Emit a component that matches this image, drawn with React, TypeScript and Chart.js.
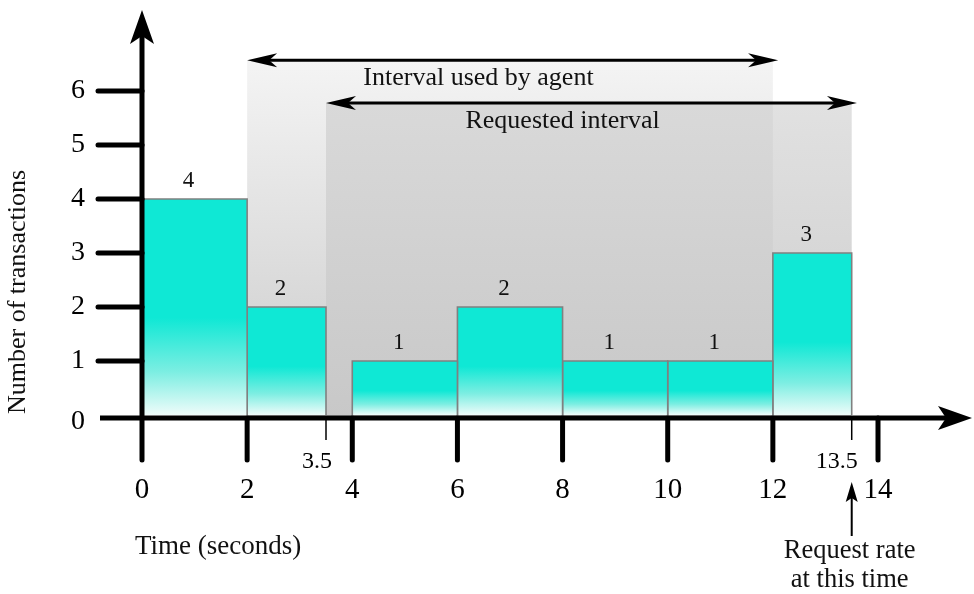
import React, { useEffect, useRef } from "react";
import { Chart, registerables } from "chart.js";

Chart.register(...registerables);

// ---- data ----
const binStarts = [0, 2, 4, 6, 8, 10, 12];
const binEnds = [2, 3.5, 6, 8, 10, 12, 13.5];
const counts = [4, 2, 1, 2, 1, 1, 3];
const xTickValues = [0, 2, 4, 6, 8, 10, 12, 14];
const xTickLabels = ["0", "2", "4", "6", "8", "10", "12", "14"];
const xMinorTicks = [3.5, 13.5];
const xMinorLabels = ["3.5", "13.5"];
const yTickValues = [0, 1, 2, 3, 4, 5, 6];
const yTickLabels = ["0", "1", "2", "3", "4", "5", "6"];
const agentInterval = [2, 12];
const requestedInterval = [3.5, 13.5];
const agentArrow = [2, 12.1];
const requestedArrow = [3.5, 13.6];
const intervalTops = [6.57, 5.78];
const intervalLabels = ["Interval used by agent", "Requested interval"];
const intervalLabelX = [6.4, 8.0];
const requestTime = 13.5;
const yTitle = "Number of transactions";
const xTitle = "Time (seconds)";
const requestNote = ["Request rate", "at this time"];

const SERIF = "'Liberation Serif', 'Times New Roman', serif";

function arrowHead(ctx: CanvasRenderingContext2D, tx: number, ty: number, angle: number, len: number, hw: number, notch: number) {
  ctx.save();
  ctx.translate(tx, ty);
  ctx.rotate(angle);
  ctx.beginPath();
  ctx.moveTo(0, 0);
  ctx.lineTo(-len, -hw);
  ctx.lineTo(-len + notch, 0);
  ctx.lineTo(-len, hw);
  ctx.closePath();
  ctx.fill();
  ctx.restore();
}

const decorPlugin = {
  id: "decor",
  beforeDatasetsDraw(chart: any) {
    const ctx: CanvasRenderingContext2D = chart.ctx;
    const xs = chart.scales.x;
    const ys = chart.scales.y;
    const base = ys.getPixelForValue(0) + 3;
    const aL = xs.getPixelForValue(agentInterval[0]);
    const aR = xs.getPixelForValue(agentInterval[1]);
    const aT = ys.getPixelForValue(intervalTops[0]);
    let g = ctx.createLinearGradient(0, aT, 0, base);
    g.addColorStop(0, "#f4f4f4");
    g.addColorStop(1, "#cbcbcb");
    ctx.fillStyle = g;
    ctx.fillRect(aL, aT, aR - aL, base - aT);
    const rL = xs.getPixelForValue(requestedInterval[0]);
    const rR = xs.getPixelForValue(requestedInterval[1]);
    const rT = ys.getPixelForValue(intervalTops[1]);
    g = ctx.createLinearGradient(0, rT, 0, base);
    g.addColorStop(0, "#e1e1e1");
    g.addColorStop(1, "#cccccc");
    ctx.fillStyle = g;
    ctx.fillRect(rL, rT, rR - rL, base - rT);
    g = ctx.createLinearGradient(0, rT, 0, base);
    g.addColorStop(0, "#d9d9d9");
    g.addColorStop(1, "#c8c8c8");
    ctx.fillStyle = g;
    ctx.fillRect(rL, rT, aR - rL, base - rT);
  },
  afterDatasetsDraw(chart: any) {
    const ctx: CanvasRenderingContext2D = chart.ctx;
    const xs = chart.scales.x;
    const ys = chart.scales.y;
    const x0 = xs.getPixelForValue(0);
    const axisY = ys.getPixelForValue(0) + 3;
    ctx.save();
    ctx.strokeStyle = "#000";
    ctx.fillStyle = "#000";
    ctx.lineCap = "round";

    ctx.lineWidth = 5;
    yTickValues.forEach((v) => {
      if (v === 0) return;
      const y = ys.getPixelForValue(v);
      ctx.beginPath();
      ctx.moveTo(x0 - 44, y);
      ctx.lineTo(x0, y);
      ctx.stroke();
    });
    xTickValues.forEach((v) => {
      const x = xs.getPixelForValue(v);
      ctx.beginPath();
      ctx.moveTo(x, axisY);
      ctx.lineTo(x, axisY + 42);
      ctx.stroke();
    });
    ctx.lineWidth = 1.5;
    ctx.lineCap = "butt";
    xMinorTicks.forEach((v) => {
      const x = xs.getPixelForValue(v);
      ctx.beginPath();
      ctx.moveTo(x, axisY);
      ctx.lineTo(x, axisY + 22);
      ctx.stroke();
    });

    ctx.lineWidth = 5;
    ctx.lineCap = "butt";
    ctx.beginPath();
    ctx.moveTo(x0, axisY + 2);
    ctx.lineTo(x0, 36);
    ctx.stroke();
    arrowHead(ctx, x0, 10, -Math.PI / 2, 34, 12, 8);
    ctx.beginPath();
    ctx.moveTo(x0 - 42, axisY);
    ctx.lineTo(946, axisY);
    ctx.stroke();
    arrowHead(ctx, 972, axisY, 0, 34, 12, 8);

    ctx.textBaseline = "middle";
    ctx.textAlign = "center";
    ctx.font = `28px ${SERIF}`;
    yTickValues.forEach((v, i) => {
      const y = v === 0 ? axisY + 4 : ys.getPixelForValue(v);
      ctx.fillText(yTickLabels[i], x0 - 64, y);
    });
    ctx.font = `29px ${SERIF}`;
    xTickValues.forEach((v, i) => {
      ctx.fillText(xTickLabels[i], xs.getPixelForValue(v), axisY + 72);
    });
    ctx.font = `24px ${SERIF}`;
    ctx.textAlign = "right";
    xMinorTicks.forEach((v, i) => {
      ctx.fillText(xMinorLabels[i], xs.getPixelForValue(v) + 6, axisY + 44);
    });

    ctx.textAlign = "center";
    ctx.font = `23px ${SERIF}`;
    ctx.fillStyle = "#111";
    counts.forEach((c, i) => {
      const cx = xs.getPixelForValue((binStarts[i] + binEnds[i]) / 2) - 6;
      ctx.fillText(String(c), cx, ys.getPixelForValue(c) - 18);
    });

    ctx.fillStyle = "#000";
    ctx.lineWidth = 3;
    const arrows = [agentArrow, requestedArrow];
    arrows.forEach((a, i) => {
      const y = ys.getPixelForValue(intervalTops[i]);
      const l = xs.getPixelForValue(a[0]);
      const r = xs.getPixelForValue(a[1]);
      ctx.beginPath();
      ctx.moveTo(l + 20, y);
      ctx.lineTo(r - 20, y);
      ctx.stroke();
      arrowHead(ctx, l, y, Math.PI, 30, 7, 8);
      arrowHead(ctx, r, y, 0, 30, 7, 8);
      ctx.font = `26px ${SERIF}`;
      ctx.textAlign = "center";
      ctx.fillStyle = "#111";
      ctx.fillText(intervalLabels[i], xs.getPixelForValue(intervalLabelX[i]), y + 18);
      ctx.fillStyle = "#000";
    });

    const rx = xs.getPixelForValue(requestTime);
    ctx.lineWidth = 2;
    ctx.beginPath();
    ctx.moveTo(rx, axisY + 118);
    ctx.lineTo(rx, axisY + 78);
    ctx.stroke();
    arrowHead(ctx, rx, axisY + 64, -Math.PI / 2, 20, 6, 4);
    ctx.fillStyle = "#111";
    ctx.font = `26.5px ${SERIF}`;
    ctx.textAlign = "center";
    ctx.fillText(requestNote[0], rx - 2, axisY + 133);
    ctx.fillText(requestNote[1], rx - 2, axisY + 162);

    ctx.font = `27px ${SERIF}`;
    ctx.textAlign = "left";
    ctx.fillText(xTitle, 135, axisY + 129);
    ctx.font = `26px ${SERIF}`;
    ctx.save();
    ctx.translate(18, 292);
    ctx.rotate(-Math.PI / 2);
    ctx.textAlign = "center";
    ctx.fillText(yTitle, 0, 0);
    ctx.restore();

    ctx.restore();
  },
};

export default function App() {
  const ref = useRef<HTMLCanvasElement>(null);
  useEffect(() => {
    if (!ref.current) return;
    const datasets = counts.map((c, i) => ({
      label: `bin${i}`,
      data: [
        { x: binStarts[i], y: 0 },
        { x: binStarts[i], y: c },
        { x: binEnds[i], y: c },
        { x: binEnds[i], y: 0 },
      ],
      borderColor: "#808080",
      borderWidth: 1.6,
      pointRadius: 0,
      tension: 0,
      fill: "origin",
      clip: false,
      backgroundColor: (context: any) => {
        const chart = context.chart;
        if (!chart.chartArea) return "#0fe8d5";
        const ys = chart.scales.y;
        const top = ys.getPixelForValue(c);
        const bot = ys.getPixelForValue(0);
        const g = chart.ctx.createLinearGradient(0, top, 0, bot);
        g.addColorStop(0, "#0fe8d5");
        g.addColorStop(0.55, "#0fe8d5");
        g.addColorStop(0.8, "#7ceee2");
        g.addColorStop(1, "#effcfa");
        return g;
      },
    }));
    const chart = new Chart(ref.current, {
      type: "line",
      data: { datasets: datasets as any },
      options: {
        responsive: false,
        animation: false,
        devicePixelRatio: 1,
        layout: { padding: { left: 142, right: 96, top: 91, bottom: 179 } },
        scales: {
          x: { type: "linear", min: 0, max: 14, display: false },
          y: { type: "linear", min: 0, max: 6, display: false },
        },
        plugins: { legend: { display: false }, tooltip: { enabled: false } },
      },
      plugins: [decorPlugin],
    });
    return () => chart.destroy();
  }, []);
  return (
    <div style={{ position: "absolute", left: 0, top: 0, width: 974, height: 594, background: "#fff" }}>
      <canvas ref={ref} width={974} height={594} />
    </div>
  );
}
